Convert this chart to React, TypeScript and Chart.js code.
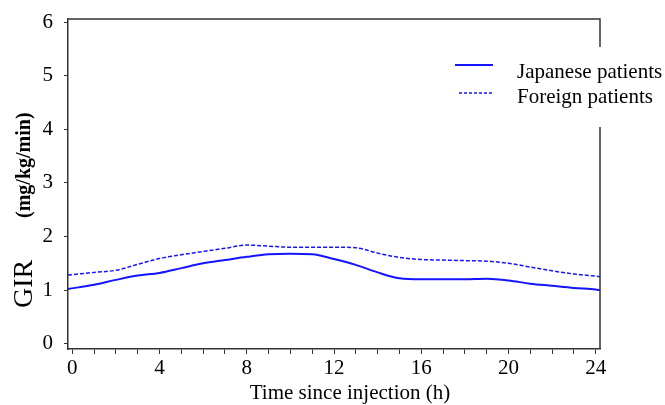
import { useEffect, useRef } from 'react';
import { Chart, registerables } from 'chart.js';

Chart.register(...registerables);

// ---- data ----
const hours = [-0.2, 1, 2, 3, 4, 5, 6, 7, 8, 9, 10, 11, 12, 13, 14, 15, 16, 17, 18, 19, 20, 21, 22, 23, 24, 24.2];
const japanese = [1.02, 1.1, 1.19, 1.27, 1.32, 1.41, 1.5, 1.56, 1.62, 1.67, 1.68, 1.67, 1.58, 1.47, 1.33, 1.22, 1.2, 1.2, 1.2, 1.21, 1.18, 1.12, 1.08, 1.04, 1.01, 1.0];
const foreign = [1.28, 1.33, 1.37, 1.48, 1.59, 1.66, 1.72, 1.78, 1.84, 1.82, 1.8, 1.8, 1.8, 1.79, 1.69, 1.61, 1.57, 1.56, 1.55, 1.54, 1.5, 1.43, 1.36, 1.3, 1.26, 1.25];
const seriesNames = ['Japanese patients', 'Foreign patients'];
const xTickValues = [0, 1, 2, 3, 4, 5, 6, 7, 8, 9, 10, 11, 12, 13, 14, 15, 16, 17, 18, 19, 20, 21, 22, 23, 24];
const xLabelValues = [0, 4, 8, 12, 16, 20, 24];
const yTickValues = [0, 1, 2, 3, 4, 5, 6];
const xTitle = 'Time since injection (h)';
const yTitleMain = 'GIR';
const yTitleUnit = '(mg/kg/min)';

const FONT = "'Liberation Serif', 'Times New Roman', serif";
const BLUE = 'rgb(20,20,255)';
const AXIS = '#333333';

const framePlugin = {
  id: 'frame',
  afterDraw(chart: any) {
    const { ctx, chartArea } = chart;
    ctx.save();
    ctx.strokeStyle = AXIS;
    ctx.lineWidth = 1.5;
    ctx.beginPath();
    ctx.moveTo(chartArea.left, chartArea.top);
    ctx.lineTo(chartArea.right, chartArea.top);
    ctx.lineTo(chartArea.right, chartArea.bottom);
    ctx.stroke();
    ctx.restore();
  },
};

const legendPlugin = {
  id: 'customLegend',
  afterDraw(chart: any) {
    const { ctx } = chart;
    ctx.save();
    ctx.fillStyle = '#ffffff';
    ctx.fillRect(440, 47, 225, 80);
    const items = [
      { y: 65, x0: 455, x1: 493, dash: [] as number[], w: 2, textY: 78 },
      { y: 93, x0: 459, x1: 492, dash: [3, 2], w: 1.5, textY: 103 },
    ];
    items.forEach((it, i) => {
      const ds = chart.data.datasets[i];
      ctx.strokeStyle = ds.borderColor;
      ctx.lineWidth = it.w;
      ctx.setLineDash(it.dash);
      ctx.beginPath();
      ctx.moveTo(it.x0, it.y);
      ctx.lineTo(it.x1, it.y);
      ctx.stroke();
      ctx.setLineDash([]);
      ctx.fillStyle = '#000000';
      ctx.font = `21px ${FONT}`;
      ctx.textAlign = 'left';
      ctx.textBaseline = 'alphabetic';
      ctx.fillText(ds.label, 517, it.textY);
    });
    ctx.restore();
  },
};

const titlesPlugin = {
  id: 'axisTitles',
  afterDraw(chart: any) {
    const { ctx } = chart;
    ctx.save();
    ctx.fillStyle = '#000000';
    ctx.textBaseline = 'alphabetic';
    // x title
    ctx.font = `21px ${FONT}`;
    ctx.textAlign = 'center';
    ctx.fillText(xTitle, 350, 399);
    // y title (rotated)
    ctx.translate(32, 308);
    ctx.rotate(-Math.PI / 2);
    ctx.textAlign = 'left';
    ctx.font = `28px ${FONT}`;
    ctx.fillText(yTitleMain, 0, 0);
    ctx.font = `bold 20px ${FONT}`;
    ctx.fillText(yTitleUnit, 90, -2);
    ctx.restore();
  },
};

export default function App() {
  const ref = useRef<HTMLCanvasElement | null>(null);

  useEffect(() => {
    if (!ref.current) return;
    const chart = new Chart(ref.current, {
      type: 'line',
      data: {
        datasets: [
          {
            label: seriesNames[0],
            data: hours.map((h, i) => ({ x: h, y: japanese[i] })),
            borderColor: BLUE,
            borderWidth: 2,
            pointRadius: 0,
            cubicInterpolationMode: 'monotone',
            fill: false,
          },
          {
            label: seriesNames[1],
            data: hours.map((h, i) => ({ x: h, y: foreign[i] })),
            borderColor: BLUE,
            borderWidth: 1.5,
            borderDash: [4, 2],
            pointRadius: 0,
            cubicInterpolationMode: 'monotone',
            fill: false,
          },
        ],
      },
      options: {
        animation: false,
        responsive: false,
        layout: { padding: { top: 19, right: 65, left: 0, bottom: 0 } },
        plugins: {
          legend: { display: false },
          tooltip: { enabled: false },
          title: { display: false },
        },
        scales: {
          x: {
            type: 'linear',
            min: -0.2,
            max: 24.2,
            afterBuildTicks: (scale: any) => {
              scale.ticks = xTickValues.map((v) => ({ value: v }));
            },
            afterFit: (scale: any) => {
              scale.height = 56;
              scale.paddingLeft = 0;
              scale.paddingRight = 0;
              scale.paddingTop = 0;
              scale.paddingBottom = 0;
            },
            ticks: {
              autoSkip: false,
              maxRotation: 0,
              minRotation: 0,
              padding: 2,
              color: '#000000',
              font: { family: FONT, size: 21 },
              callback: (v: any) => (xLabelValues.includes(Number(v)) ? String(v) : ''),
            },
            grid: { drawOnChartArea: false, drawTicks: true, tickLength: 5, color: AXIS, lineWidth: 1 },
            border: { display: true, color: AXIS, width: 1.5 },
          },
          y: {
            type: 'linear',
            min: -0.1,
            max: 6.06,
            afterBuildTicks: (scale: any) => {
              scale.ticks = yTickValues.map((v) => ({ value: v }));
            },
            afterFit: (scale: any) => {
              scale.width = 68;
              scale.paddingLeft = 0;
              scale.paddingRight = 0;
              scale.paddingTop = 0;
              scale.paddingBottom = 0;
            },
            ticks: {
              padding: 11,
              color: '#000000',
              font: { family: FONT, size: 21 },
              callback: (v: any) => String(v),
            },
            grid: { drawOnChartArea: false, drawTicks: true, tickLength: 4, color: AXIS, lineWidth: 1 },
            border: { display: true, color: AXIS, width: 1.5 },
          },
        },
      },
      plugins: [framePlugin, legendPlugin, titlesPlugin],
    } as any);
    return () => chart.destroy();
  }, []);

  return (
    <div style={{ position: 'absolute', left: 0, top: 0, width: 665, height: 405, background: '#fff' }}>
      <canvas ref={ref} width={665} height={405} style={{ display: 'block' }} />
    </div>
  );
}
